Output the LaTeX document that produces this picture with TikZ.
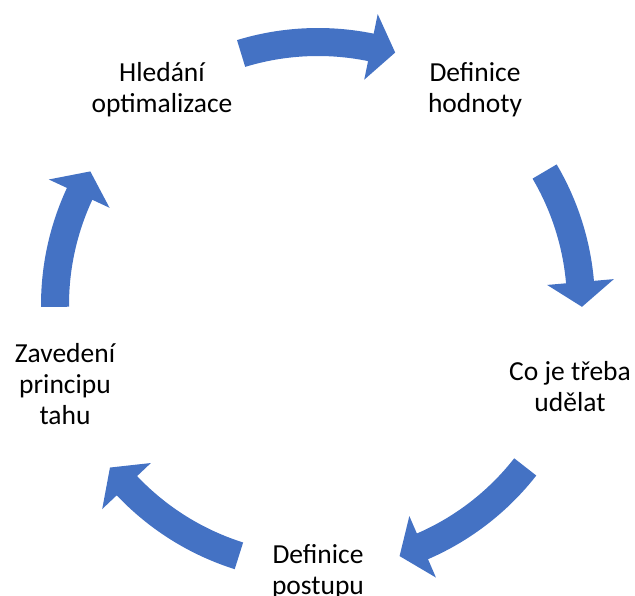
\documentclass[tikz,border=0pt]{standalone}
\usepackage{fontspec}
\setmainfont{Carlito}
\definecolor{cycleblue}{RGB}{68,114,196}
\tikzset{
  steplabel/.style={align=center, anchor=base, inner sep=0pt, text=black,
    font=\fontsize{27.5}{31}\selectfont},
  cyclearrow/.style={fill=cycleblue, draw=none}
}
% curved block arrow on the cycle: #1 = start angle, #2 = tip angle
\newcommand{\cyclearc}[2]{%
  \pgfmathsetmacro{\headbase}{#2+5.4*sign(#1-#2)}%
  \fill[cyclearrow]
    (#1:277) arc[start angle=#1, end angle=\headbase, radius=277]
    -- (\headbase:297) -- (#2:264) -- (\headbase:230)
    -- (\headbase:249) arc[start angle=\headbase, end angle=#1, radius=249]
    -- cycle;}
\begin{document}
\begin{tikzpicture}[x=1pt,y=1pt]
  \useasboundingbox (0,0) rectangle (635,595);
  \clip (0,0) rectangle (635,595);

  % step labels (anchored at the baseline of the last line)
  \node[steplabel] (opt)  at (162,482) {Hledání\\optimalizace};
  \node[steplabel] (val)  at (475,482) {Definice\\hodnoty};
  \node[steplabel] (todo) at (570,183) {Co je třeba\\udělat};
  \node[steplabel] (proc) at (318,1)   {Definice\\postupu};
  \node[steplabel] (pull) at (65,170)  {Zavedení\\principu\\tahu};

  % arrows around the cycle centre
  \begin{scope}[shift={(318,290)}]
    \cyclearc{107}{73}
    \cyclearc{30.5}{-0.4}
    \cyclearc{-38}{-72}
    \cyclearc{-107.5}{-142}
    \cyclearc{180.4}{149.6}
  \end{scope}
\end{tikzpicture}
\end{document}
